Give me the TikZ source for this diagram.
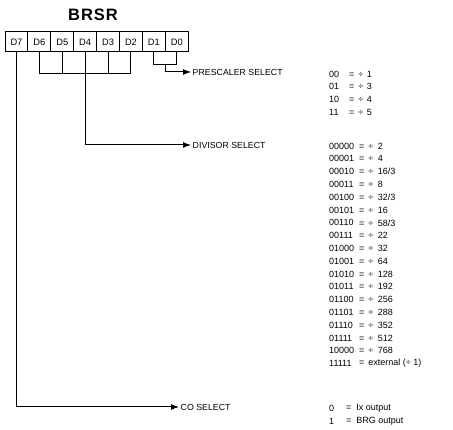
\documentclass[tikz,border=0pt]{standalone}
\usepackage{fontspec}
\setmainfont{Liberation Sans}
\usetikzlibrary{positioning}
\usetikzlibrary{calc}
\usetikzlibrary{arrows.meta}
\tikzset{bit/.style={draw,line width=1pt,minimum width=22.9pt,minimum height=20pt,inner sep=0pt,font=\fontsize{9.3}{10}\selectfont},
sel/.style={anchor=west,inner sep=1.5pt,font=\fontsize{8.8}{10}\selectfont},
tab/.style={anchor=west,inner sep=0pt,font=\fontsize{9}{10}\selectfont},
wire/.style={line width=1pt},
tip/.style={wire,-{Latex[length=8pt,width=6pt]}}}

\begin{document}
\begin{tikzpicture}[x=1pt,y=-1pt]
\useasboundingbox (0,0) rectangle (453,430);
\node (title) at (93,15) {\bfseries\fontsize{16.5}{18}\selectfont\addfontfeatures{LetterSpace=6}BRSR};

% register bits
\foreach \n in {0,...,7} {
\node (d\n) [bit] at ({16.45+22.9*(7-\n)},42) {D\n};
}

% select labels
\node (pre) [sel] at (191,72) {PRESCALER SELECT};
\node (div) [sel] at (191,145) {DIVISOR SELECT};
\node (co) [sel] at (179,407) {CO SELECT};

% field wiring
\draw[wire] (d6.south) -- ++(0,21) -| (d2.south);
\draw[wire] (d5.south) -- ++(0,21);
\draw[wire] (d3.south) -- ++(0,21);
\draw[tip] (d4.south) |- (div.west);
\draw[wire] (d1.south) -- ++(0,12) -| (d0.south);
\coordinate (pj) at ($(d1.south)!0.5!(d0.south)+(0,12)$);
\draw[tip] (pj) |- (pre.west);
\draw[tip] (d7.south) |- (co.west);

% value tables
\foreach \c/\v [count=\i from 0] in {00/1,01/3,10/4,11/5} {
\node (pc\i) [tab] at (329,{74+12.7*\i}) {\c};
\node (pv\i) [tab] at (349,{74+12.7*\i}) {=\hspace{4pt}÷\hspace{3.5pt}\v};
}
\foreach \c/\v [count=\i from 0] in {00000/2,00001/4,00010/{16/3},00011/8,00100/{32/3},00101/16,00110/{58/3},00111/22,01000/32,01001/64,01010/128,01011/192,01100/256,01101/288,01110/352,01111/512,10000/768} {
\node (dc\i) [tab] at (329,{146+12.8*\i}) {\c};
\node (dv\i) [tab] at (359,{146+12.8*\i}) {=\hspace{4pt}÷\hspace{4.5pt}\v};
}
\node (dc17) [tab] at (329,363.6) {11111};
\node (dv17) [tab] at (359,363.6) {=\hspace{4pt}external (÷ 1)};
\node (cc0) [tab] at (329,408) {0};
\node (cv0) [tab] at (346,408) {=\hspace{5pt}Ix output};
\node (cc1) [tab] at (329,421) {1};
\node (cv1) [tab] at (346,421) {=\hspace{5pt}BRG output};

\end{tikzpicture}
\end{document}
